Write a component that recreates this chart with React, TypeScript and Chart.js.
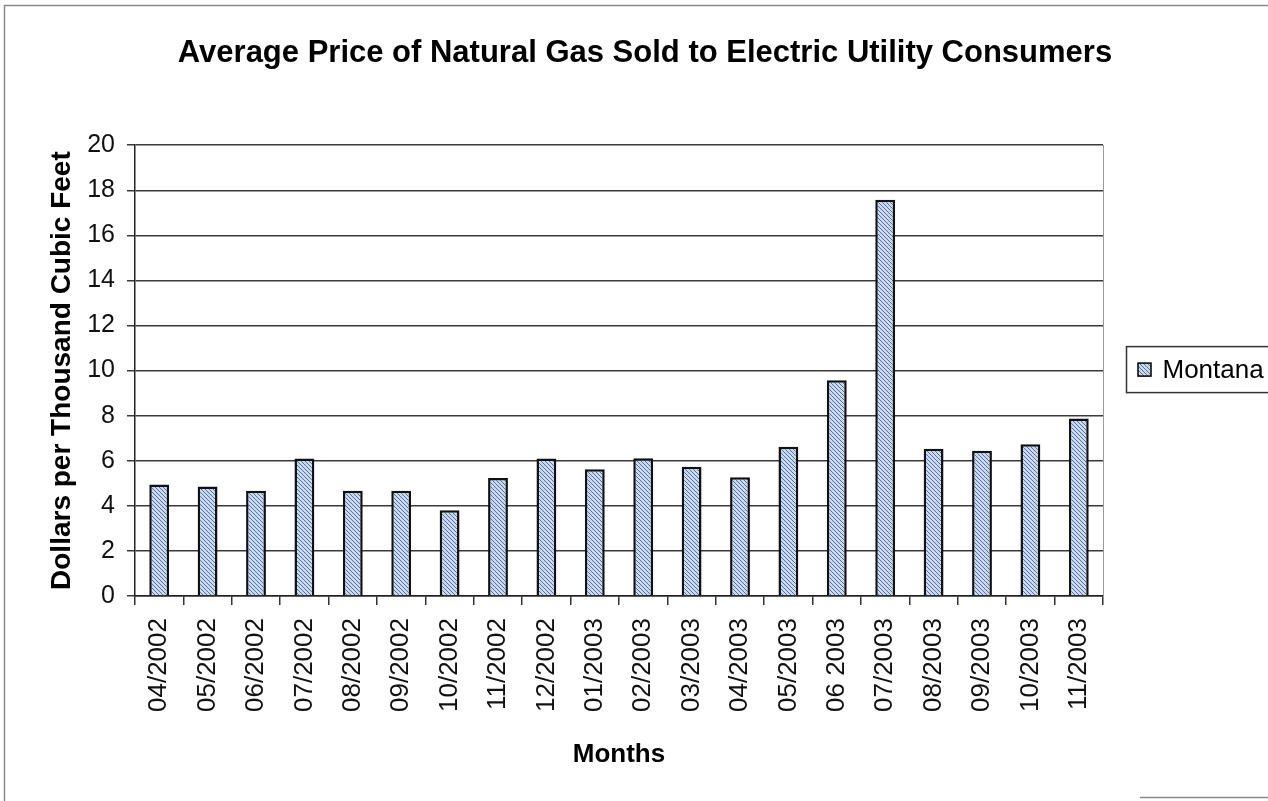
import React, { useEffect, useRef } from "react";
import { Chart, registerables } from "chart.js";

Chart.register(...registerables);

const CHART_TITLE = "Average Price of Natural Gas Sold to Electric Utility Consumers";
const X_TITLE = "Months";
const Y_TITLE = "Dollars per Thousand Cubic Feet";
const SERIES_NAME = "Montana";

const MONTHS = [
  "04/2002", "05/2002", "06/2002", "07/2002", "08/2002", "09/2002", "10/2002",
  "11/2002", "12/2002", "01/2003", "02/2003", "03/2003", "04/2003", "05/2003",
  "06 2003", "07/2003", "08/2003", "09/2003", "10/2003", "11/2003",
];

const MONTANA_PRICES = [
  4.95, 4.86, 4.67, 6.1, 4.67, 4.67, 3.8, 5.24, 6.1, 5.62,
  6.11, 5.73, 5.27, 6.62, 9.57, 17.58, 6.53, 6.44, 6.73, 7.87,
];

const Y_MIN = 0;
const Y_MAX = 20;
const Y_STEP = 2;

const FONT = "'Liberation Sans', Arial, Helvetica, sans-serif";

function makeHatch(): CanvasPattern | string {
  const c = document.createElement("canvas");
  const s = 4;
  c.width = s;
  c.height = s;
  const g = c.getContext("2d");
  if (!g) return "#b4c6e2";
  g.fillStyle = "#c6d8f2";
  g.fillRect(0, 0, s, s);
  g.strokeStyle = "#5f7398";
  g.lineWidth = 1;
  g.beginPath();
  for (const k of [-s, 0, s]) {
    g.moveTo(k - 1, -1);
    g.lineTo(k + s + 1, s + 1);
  }
  g.stroke();
  const p = g.createPattern(c, "repeat");
  return p || "#b4c6e2";
}

const decorPlugin = {
  id: "decor",
  beforeDraw(chart: any) {
    const ctx = chart.ctx;
    ctx.save();
    ctx.fillStyle = "#ffffff";
    ctx.fillRect(0, 0, chart.width, chart.height);
    ctx.restore();
  },
  afterDraw(chart: any) {
    const ctx = chart.ctx;
    ctx.save();
    // outer frame of the scanned chart
    ctx.strokeStyle = "#8a8a8a";
    ctx.lineWidth = 1.5;
    ctx.beginPath();
    ctx.moveTo(4.5, chart.height);
    ctx.lineTo(4.5, 5.5);
    ctx.lineTo(chart.width, 5.5);
    ctx.moveTo(1140, 797.5);
    ctx.lineTo(chart.width, 797.5);
    ctx.stroke();

    // legend box
    const ds = chart.data.datasets[0];
    const area = chart.chartArea;
    const cy = (area.top + area.bottom) / 2 - 1;
    const bx = area.right + 23.5;
    ctx.strokeStyle = "#333";
    ctx.lineWidth = 1.5;
    ctx.strokeRect(bx, cy - 23, 170, 46);
    ctx.fillStyle = ds.backgroundColor;
    ctx.fillRect(bx + 11.5, cy - 6.5, 13, 13);
    ctx.strokeStyle = "#000";
    ctx.lineWidth = 1.5;
    ctx.strokeRect(bx + 11.5, cy - 6.5, 13, 13);
    ctx.fillStyle = "#000";
    ctx.font = `26px ${FONT}`;
    ctx.textBaseline = "middle";
    ctx.textAlign = "left";
    ctx.fillText(ds.label, bx + 36, cy + 1);
    ctx.restore();
  },
};

export default function App() {
  const ref = useRef<HTMLCanvasElement>(null);

  useEffect(() => {
    const canvas = ref.current;
    if (!canvas) return;
    const hatch = makeHatch();
    const chart = new Chart(canvas, {
      type: "bar",
      data: {
        labels: MONTHS,
        datasets: [
          {
            label: SERIES_NAME,
            data: MONTANA_PRICES,
            backgroundColor: hatch as any,
            borderColor: "#111",
            borderWidth: 2.5,
            borderSkipped: "start",
            barPercentage: 0.41,
            categoryPercentage: 1,
            yAxisID: "y",
          },
        ],
      },
      options: {
        responsive: false,
        animation: false,
        devicePixelRatio: 1,
        layout: { padding: { left: 22, top: 0, right: 0, bottom: 0 } },
        plugins: {
          legend: { display: false },
          tooltip: { enabled: false },
          title: {
            display: true,
            text: CHART_TITLE,
            color: "#000",
            font: { family: FONT, size: 31, weight: "bold" },
            padding: { top: 35, bottom: 73 },
          },
        },
        scales: {
          x: {
            type: "category",
            offset: true,
            grid: {
              display: true,
              drawOnChartArea: false,
              drawTicks: true,
              tickLength: 9,
              color: "#333",
              lineWidth: 1.5,
              offset: true,
            },
            border: { display: true, color: "#222", width: 1.5 },
            ticks: {
              autoSkip: false,
              minRotation: 90,
              maxRotation: 90,
              padding: 13,
              color: "#111",
              font: { family: FONT, size: 26 },
            },
            title: {
              display: true,
              text: X_TITLE,
              color: "#000",
              font: { family: FONT, size: 26, weight: "bold" },
              padding: { top: 0, bottom: 31 },
            },
            afterFit: (s: any) => {
              s.height = 205;
            },
          },
          y: {
            type: "linear",
            position: "left",
            min: Y_MIN,
            max: Y_MAX,
            ticks: {
              stepSize: Y_STEP,
              padding: 12,
              color: "#111",
              font: { family: FONT, size: 25 },
            },
            grid: {
              color: "#3a3a3a",
              lineWidth: 1.5,
              drawTicks: true,
              tickLength: 8,
            },
            border: { display: true, color: "#222", width: 1.5 },
            title: {
              display: true,
              text: Y_TITLE,
              color: "#000",
              font: { family: FONT, size: 28, weight: "bold" },
              padding: { top: 23, bottom: 0 },
            },
            afterFit: (s: any) => {
              s.width = 113;
            },
          },
          y2: {
            type: "linear",
            position: "right",
            display: true,
            min: Y_MIN,
            max: Y_MAX,
            grid: { display: false, drawTicks: false },
            ticks: { display: false },
            border: { display: true, color: "#9a9a9a", width: 1 },
            afterFit: (s: any) => {
              s.width = 165;
            },
          },
        },
      } as any,
      plugins: [decorPlugin],
    });
    return () => chart.destroy();
  }, []);

  return (
    <div
      style={{
        position: "absolute",
        left: 0,
        top: 0,
        width: 1268,
        height: 801,
        background: "#fff",
      }}
    >
      <canvas ref={ref} width={1268} height={801} style={{ display: "block" }} />
    </div>
  );
}
